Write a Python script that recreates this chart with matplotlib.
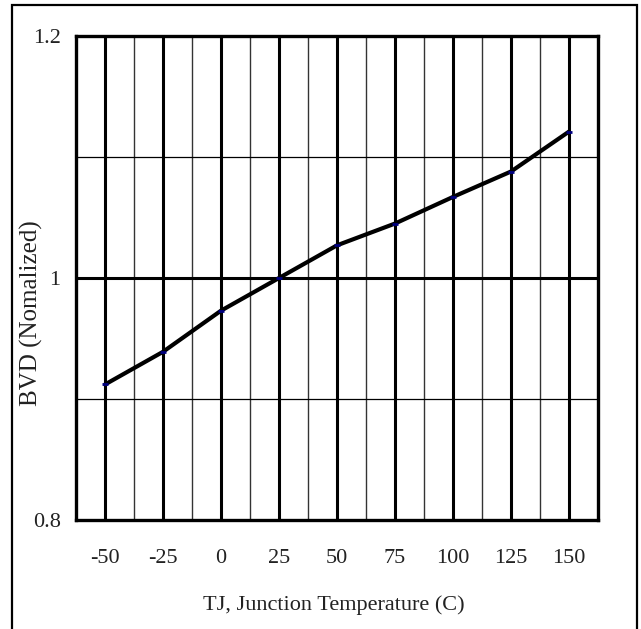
import matplotlib
matplotlib.use("Agg")
import matplotlib.pyplot as plt
import numpy as np
from matplotlib.patches import Rectangle

# Data
temps = [-50, -25, 0, 25, 50, 75, 100, 125, 150]
bvd = [0.912, 0.939, 0.973, 1.000, 1.027, 1.045, 1.067, 1.088, 1.121]
x_major = [-50, -25, 0, 25, 50, 75, 100, 125, 150]
x_minor = [-37.5, -12.5, 12.5, 37.5, 62.5, 87.5, 112.5, 137.5]
y_major = [0.8, 1.0, 1.2]
y_major_labels = ["0.8", "1", "1.2"]
y_minor = [0.9, 1.1]
x_label = "TJ, Junction Temperature (C)"
y_label = "BVD (Nomalized)"

plt.rcParams['font.family'] = ['Liberation Serif', 'DejaVu Serif']
txt_color = '#222222'

fig = plt.figure(figsize=(6.41, 6.29), dpi=100)
W, H = 641, 629
ax = fig.add_axes([76 / W, 1 - 520 / H, 522 / W, 484 / H])

ax.set_xlim(-62.5, 162.5)
ax.set_ylim(0.8, 1.2)

# grid lines
for xv in x_major:
    ax.axvline(xv, color='black', lw=2.2, zorder=1)
for xv in x_minor:
    ax.axvline(xv, color='#333333', lw=1.0, zorder=1)
ax.axhline(1.0, color='black', lw=2.2, zorder=1)
for yv in y_minor:
    ax.axhline(yv, color='black', lw=0.9, zorder=1)

ax.plot(temps, bvd, color='black', lw=3.0, solid_capstyle='round',
        solid_joinstyle='round', zorder=3)
ax.plot(temps, bvd, linestyle='none', marker='_', markersize=5,
        markeredgewidth=2, color='#000080', zorder=4)

for s in ax.spines.values():
    s.set_linewidth(2.4)
    s.set_color('black')

ax.set_xticks(x_major)
ax.set_xticklabels([str(v) for v in x_major])
ax.set_yticks(y_major)
ax.set_yticklabels(y_major_labels)
ax.tick_params(axis='both', length=0, labelsize=16, colors=txt_color)
ax.tick_params(axis='x', pad=21)
ax.tick_params(axis='y', pad=11)

fig.text(334 / W, 1 - 605 / H, x_label, ha='center', va='center',
         fontsize=16, color=txt_color)
fig.text(31 / W, 1 - 313 / H, y_label, ha='center', va='center',
         rotation=90, fontsize=18, color=txt_color)

# outer frame
fig.patches.append(Rectangle((12 / W, -0.05), (637 - 12) / W, 1.05 - 5 / H,
                             transform=fig.transFigure, fill=False,
                             edgecolor='black', lw=1.6))

fig.savefig("out.png", dpi=100)
